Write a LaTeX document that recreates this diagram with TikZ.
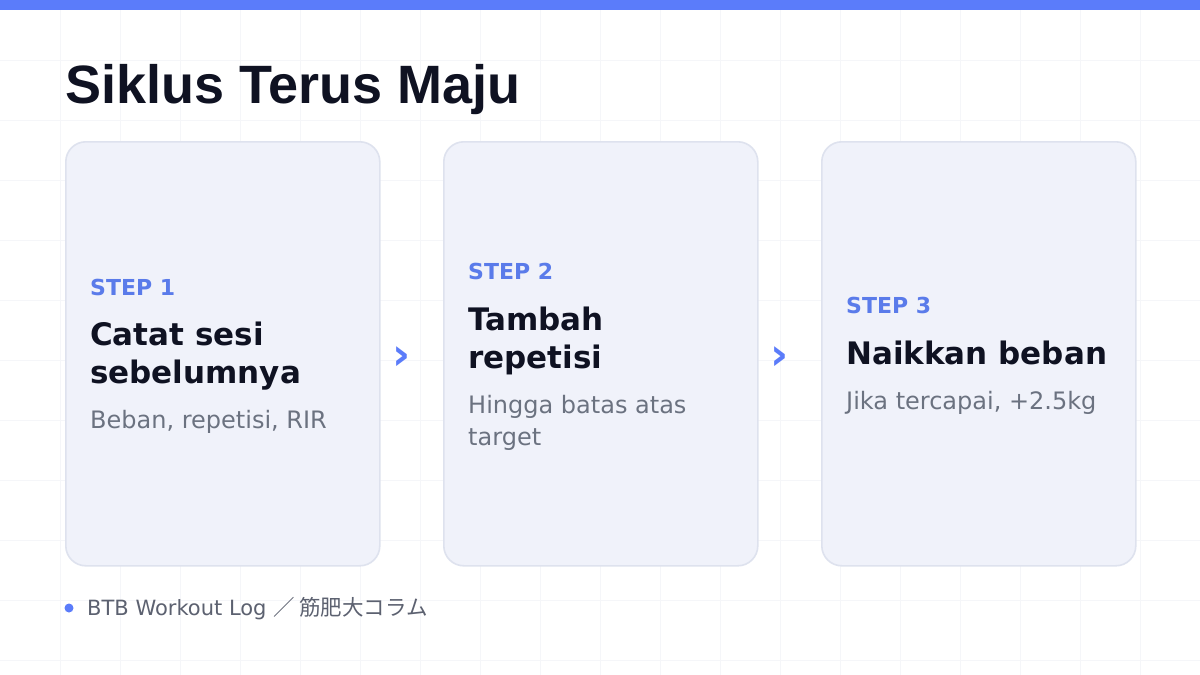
\documentclass[tikz,border=0pt]{standalone}
\usepackage{fontspec}
\setmainfont{DejaVu Sans}
\newfontfamily\titlefont{Liberation Sans}
\newfontfamily\cjkfont{Noto Sans CJK JP}
\usetikzlibrary{calc}
\definecolor{accent}{HTML}{5B7CFA}
\definecolor{steptxt}{HTML}{5A7BEA}
\definecolor{ink}{HTML}{0F1222}
\definecolor{muted}{HTML}{6B7280}
\definecolor{cardfill}{HTML}{F0F2FA}
\definecolor{cardline}{HTML}{DEE2EE}
\definecolor{gridline}{HTML}{F5F6F9}
\definecolor{foot}{HTML}{5C6170}
\begin{document}
\begin{tikzpicture}[x=1pt,y=-1pt,
  card/.style={draw=cardline, line width=1.6pt, fill=cardfill, rounded corners=20pt,
    minimum width=314pt, minimum height=424pt, anchor=north west, inner sep=0pt},
  steplabel/.style={anchor=base west, inner sep=0pt, text=steptxt,
    font=\bfseries\fontsize{22}{26}\selectfont},
  cardtitle/.style={anchor=base west, inner sep=0pt, text=ink,
    font=\bfseries\fontsize{31}{38}\selectfont},
  cardsub/.style={anchor=base west, inner sep=0pt, text=muted,
    font=\fontsize{24}{32}\selectfont},
  chev/.style={inner sep=0pt, text=accent, font=\bfseries\fontsize{44}{48}\selectfont},
  gridrule/.style={draw=gridline, line width=1pt}
]
\useasboundingbox (0,0) rectangle (1200,675);
\fill[white] (0,0) rectangle (1200,675);
% background grid
\foreach \gx in {60,120,...,1140} \draw[gridrule] (\gx,10) -- (\gx,675);
\foreach \gy in {60,120,...,660} \draw[gridrule] (0,\gy) -- (1200,\gy);
% top bar
\fill[accent] (0,0) rectangle (1200,10);
% title
\node[anchor=base west, inner sep=0pt, text=ink,
  font=\titlefont\bfseries\fontsize{54}{60}\selectfont] (title) at (65,103) {Siklus Terus Maju};
% cards
\node[card] (c1) at (65,141) {};
\node[card] (c2) at (443,141) {};
\node[card] (c3) at (821,141) {};
% card 1
\node[steplabel] (s1) at (90,295) {STEP 1};
\node[cardtitle] (t1a) at (90,345) {Catat sesi};
\node[cardtitle] (t1b) at (90,383) {sebelumnya};
\node[cardsub] (d1) at (90,428) {Beban, repetisi, RIR};
% card 2
\node[steplabel] (s2) at (468,279) {STEP 2};
\node[cardtitle] (t2a) at (468,330) {Tambah};
\node[cardtitle] (t2b) at (468,368) {repetisi};
\node[cardsub] (d2a) at (468,413) {Hingga batas atas};
\node[cardsub] (d2b) at (468,445) {target};
% card 3
\node[steplabel] (s3) at (846,313) {STEP 3};
\node[cardtitle] (t3) at (846,364) {Naikkan beban};
\node[cardsub] (d3) at (846,409) {Jika tercapai, +2.5kg};
% chevrons between cards
\node[chev] (a1) at ($(c1.east)!0.34!(c2.west)+(0,4)$) {›};
\node[chev] (a2) at ($(c2.east)!0.34!(c3.west)+(0,4)$) {›};
% footer
\fill[accent] (69,608) circle (4.5);
\node[anchor=base west, inner sep=0pt, text=foot, font=\fontsize{21}{24}\selectfont]
  (footer) at (87,615) {BTB Workout Log {\cjkfont\fontsize{21.5}{24}\selectfont ／ 筋肥大コラム}};
\end{tikzpicture}
\end{document}
